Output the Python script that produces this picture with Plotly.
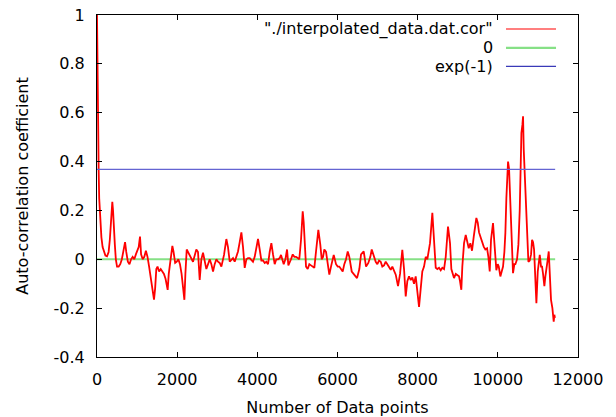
import plotly.graph_objects as go

# ---- data ----
lag = [
    0, 8, 16, 25, 33, 42, 55, 70, 90, 110, 140, 175, 210, 250, 290, 320, 350, 382, 400, 420,
    445, 470, 500, 540, 580, 620, 660, 700, 730, 770, 810, 850, 890, 930, 970, 1010, 1040, 1073, 1100, 1140,
    1180, 1220, 1260, 1300, 1340, 1380, 1422, 1450, 1480, 1510, 1550, 1590, 1630, 1670, 1710, 1740, 1763, 1790, 1830, 1880,
    1910, 1950, 1990, 2030, 2070, 2110, 2150, 2180, 2205, 2238,
    2270, 2353, 2395, 2478, 2520, 2562, 2603, 2645, 2687, 2728, 2770, 2812, 2853, 2895, 2936, 2978, 3019, 3061, 3103, 3144,
    3169, 3227, 3268, 3311, 3352, 3393, 3435, 3477, 3518, 3560, 3602, 3643, 3685, 3727, 3768, 3810, 3851, 3892, 3934, 3976,
    4017, 4059, 4101, 4142, 4184, 4225, 4267, 4308, 4350, 4391, 4433, 4474, 4516, 4558,
    4591, 4658, 4700, 4741, 4774, 4840, 4883, 4924, 4965, 5008, 5047, 5090, 5132, 5157, 5190, 5215, 5257, 5297, 5339, 5381,
    5422, 5464, 5522, 5571, 5606, 5639, 5671, 5714, 5756, 5796, 5838, 5881, 5906, 5963, 6006, 6045, 6088, 6130, 6170, 6213,
    6255, 6295, 6355, 6420, 6487, 6545, 6587, 6654, 6712, 6769, 6819, 6854,
    6911, 6953, 6994, 7036, 7078, 7118, 7161, 7203, 7243, 7285, 7328, 7368, 7410, 7453, 7510, 7560, 7617, 7660, 7702, 7742,
    7784, 7827, 7867, 7909, 7951, 7992, 8034, 8076, 8116, 8159, 8201, 8241, 8308, 8366, 8408, 8451, 8491, 8533, 8575, 8615,
    8658, 8700, 8757, 8807, 8840, 8907, 8950, 8990, 9032, 9057, 9089, 9114, 9157, 9199, 9239,
    9274, 9314, 9356, 9399, 9431, 9464, 9499, 9531, 9564, 9606, 9648, 9688, 9731, 9764, 9798, 9830, 9863, 9880, 9913, 9938,
    9963, 9998, 10023, 10063, 10097, 10130, 10163, 10188, 10213, 10230, 10255, 10280, 10297, 10313, 10330, 10355, 10379, 10413, 10438, 10479,
    10513, 10546, 10571, 10588, 10613, 10629, 10646, 10663, 10688, 10713, 10729, 10762, 10796, 10829, 10854, 10879, 10904, 10937, 10962, 10996,
    11021, 11046, 11078, 11103, 11128, 11161, 11186, 11211, 11245, 11270, 11295, 11327, 11361, 11394, 11410, 11425,
]
acf = [
    1.0, 0.8, 0.66, 0.55, 0.45, 0.36, 0.25, 0.2, 0.14, 0.09, 0.05, 0.03, 0.015, 0.012, 0.03, 0.08, 0.17, 0.235, 0.2, 0.12,
    0.06, 0.0, -0.03, -0.03, -0.02, 0.0, 0.03, 0.07, 0.03, -0.01, -0.02, 0.0, 0.01, 0.0, 0.02, 0.04, 0.05, 0.093, 0.02, 0.0,
    0.01, 0.035, 0.01, -0.03, -0.08, -0.12, -0.165, -0.12, -0.04, -0.03, -0.05, -0.04, -0.05, -0.06, -0.08, -0.1, -0.125, -0.06, 0.0, 0.055,
    0.03, -0.015, -0.01, 0.0, -0.02, -0.06, -0.12, -0.166, -0.06, 0.04,
    0.03, 0.0, -0.01, 0.04, 0.03, -0.085, 0.0, 0.027, -0.01, -0.04, -0.02, 0.0, -0.02, -0.05, -0.02, 0.0, -0.01, -0.015, -0.03, 0.0,
    0.018, 0.083, 0.05, -0.01, 0.0, 0.005, -0.01, 0.01, 0.032, 0.07, 0.11, 0.05, -0.035, 0.0, 0.005, 0.005, -0.005, -0.01, 0.01, 0.05,
    0.083, 0.04, -0.005, -0.005, -0.015, -0.01, -0.02, 0.03, 0.066, 0.02, -0.02, 0.0, 0.0, 0.005,
    0.018, -0.02, 0.0, 0.04, -0.025, 0.0, 0.02, 0.01, 0.01, 0.005, 0.0, 0.08, 0.196, 0.15, 0.0, -0.03, -0.04, -0.02, -0.025, -0.03,
    -0.035, 0.032, 0.12, 0.06, 0.0, 0.01, 0.04, 0.03, -0.01, -0.063, -0.03, 0.0, 0.018, -0.02, -0.03, -0.03, -0.04, -0.05, -0.02, 0.0,
    0.032, 0.01, -0.05, -0.063, -0.077, -0.04, 0.02, 0.032, -0.03, -0.015, 0.01, 0.04,
    0.005, -0.01, -0.02, -0.005, -0.01, -0.03, -0.025, -0.01, -0.02, -0.03, -0.043, -0.03, -0.05, -0.063, -0.11, -0.06, 0.039, -0.04, -0.152, -0.09,
    -0.07, -0.085, -0.075, -0.1, -0.07, -0.13, -0.195, -0.12, -0.05, -0.03, 0.01, 0.0, 0.066, 0.19, 0.09, -0.035, -0.04, -0.035, -0.045, -0.035,
    -0.04, 0.01, 0.134, 0.066, -0.04, -0.077, -0.06, -0.065, -0.07, -0.09, -0.125, -0.03, 0.066, 0.1, 0.07,
    0.045, 0.066, 0.035, 0.093, 0.14, 0.169, 0.15, 0.11, 0.093, 0.07, 0.052, 0.04, 0.045, 0.01, -0.05, 0.08, 0.13, 0.148, 0.07, -0.01,
    -0.045, -0.02, -0.03, -0.07, -0.05, -0.03, 0.03, 0.108, 0.25, 0.339, 0.40, 0.37, 0.30, 0.22, 0.134, 0.03, -0.057, -0.02, -0.02, 0.0,
    0.06, 0.2, 0.38, 0.517, 0.55, 0.585, 0.45, 0.37, 0.312, 0.15, 0.066, -0.01, -0.005, 0.02, 0.08, 0.07, 0.04, -0.11, -0.18, -0.05,
    -0.02, 0.018, -0.03, -0.03, -0.06, -0.11, -0.07, -0.03, 0.0, 0.032, -0.08, -0.166, -0.2, -0.255, -0.227, -0.24,
]
ref_x = [0, 11430]
zero_y = [0, 0]
exp_y = [0.3679, 0.3679]

x_ticks = [0, 2000, 4000, 6000, 8000, 10000, 12000]
x_ticktext = ["0", "2000", "4000", "6000", "8000", "10000", "12000"]
y_ticks = [-0.4, -0.2, 0, 0.2, 0.4, 0.6, 0.8, 1]
y_ticktext = ["-0.4", "-0.2", "0", "0.2", "0.4", "0.6", "0.8", "1"]

series_names = ['"./interpolated_data.dat.cor"', "0", "exp(-1)"]
RED, GREEN, BLUE = "#ff0000", "#86e086", "#6464d2"
FONT = "DejaVu Sans"

fig = go.Figure()
fig.add_trace(go.Scatter(x=ref_x, y=zero_y, mode="lines",
                         line=dict(color=GREEN, width=2), showlegend=False))
fig.add_trace(go.Scatter(x=lag, y=acf, mode="lines",
                         line=dict(color=RED, width=1.8), showlegend=False))
fig.add_trace(go.Scatter(x=ref_x, y=exp_y, mode="lines",
                         line=dict(color=BLUE, width=1.3), showlegend=False))

# gnuplot-style key: right-aligned text, sample line to the right
key_rows = [0.959, 0.904, 0.850]
key_colors = [RED, GREEN, "#3a3ab8"]
key_widths = [1.2, 2.2, 1.2]
for name, yk, col, w in zip(series_names, key_rows, key_colors, key_widths):
    fig.add_annotation(x=0.8274, y=yk, xref="paper", yref="paper", text=name,
                       showarrow=False, xanchor="right", yanchor="middle",
                       font=dict(family=FONT, size=16, color="black"))
    fig.add_shape(type="line", xref="paper", yref="paper", x0=0.8503, x1=0.9543,
                  y0=yk, y1=yk, line=dict(color=col, width=w))

axis_common = dict(showgrid=False, zeroline=False, showline=True, linecolor="black",
                   linewidth=1, mirror="ticks", ticks="inside", ticklen=5,
                   tickcolor="black", tickwidth=1, automargin=False,
                   tickfont=dict(family=FONT, size=16, color="black"))

fig.update_layout(
    width=616, height=417,
    margin=dict(l=97, r=38, t=15, b=60),
    paper_bgcolor="white", plot_bgcolor="white",
    font=dict(family=FONT, size=16, color="black"),
    xaxis=dict(range=[0, 12000], tickvals=x_ticks, ticktext=x_ticktext, ticklabelstandoff=8,
               title=dict(text="Number of Data points", standoff=13,
                          font=dict(family=FONT, size=16, color="black")),
               **axis_common),
    yaxis=dict(range=[-0.4, 1], tickvals=y_ticks, ticktext=y_ticktext, ticklabelstandoff=8,
               title=dict(text="Auto-correlation coefficient", standoff=20,
                          font=dict(family=FONT, size=16, color="black")),
               **axis_common),
)

fig.write_html("out.html")
